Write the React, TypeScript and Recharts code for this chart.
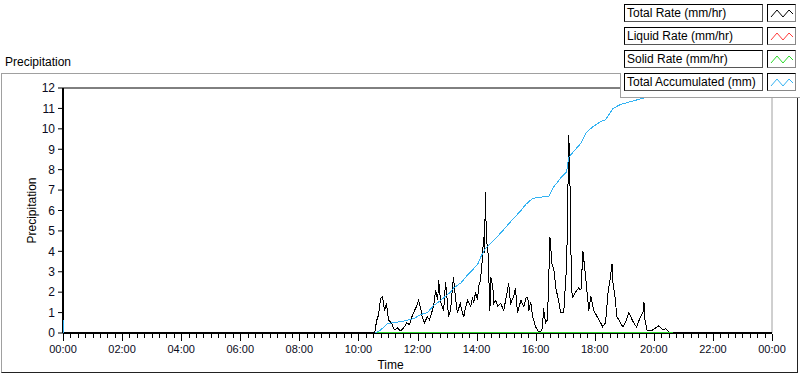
import { Legend, Line, LineChart, ReferenceLine, XAxis, YAxis } from 'recharts';

// minutes after midnight for each sample of the total rate trace
const rateMinutes = [
  0, 633, 637, 641, 645, 649, 653, 657, 661, 667, 673, 679, 685, 692, 698, 704, 708, 712, 718, 722,
  726, 730, 734, 740, 744, 749, 753, 757, 761, 763, 767, 773, 777, 781, 783, 787, 793, 797, 801, 807,
  811, 814, 818, 822, 828, 832, 834, 838, 842, 844, 848, 852, 854, 856, 858, 860, 863, 865, 867, 869,
  873, 875, 879, 883, 889, 895, 899, 903, 905, 909, 915, 919, 923, 930, 936, 940, 944, 946, 950, 954,
  960, 966, 972, 974, 976, 980, 984, 989, 993, 997, 1001, 1005, 1011, 1017, 1023, 1025, 1027, 1029, 1031, 1033,
  1035, 1041, 1047, 1052, 1056, 1060, 1064, 1068, 1072, 1078, 1086, 1092, 1096, 1102, 1107, 1111, 1115, 1117, 1121, 1125,
  1131, 1137, 1143, 1149, 1153, 1159, 1165, 1172, 1178, 1180, 1182, 1186, 1194, 1204, 1210, 1218, 1224, 1231, 1239, 1440,
];
const totalRate = [
  0, 0, 0.6, 0.9, 1.7, 1.8, 1.1, 1.45, 0.65, 0.5, 0.15, 0.25, 0.1, 0.25, 0.5, 0.4, 0.75, 1.0, 1.3, 1.6,
  1.25, 0.75, 0.5, 0.8, 0.65, 1.0, 1.4, 2.1, 1.6, 2.6, 1.5, 1.1, 2.5, 1.45, 0.8, 1.1, 2.75, 1.75, 1.0, 1.45,
  1.0, 0.8, 1.3, 1.6, 1.3, 1.75, 1.45, 2.0, 1.6, 2.25, 2.6, 3.7, 4.7, 3.9, 6.9, 4.5, 4.1, 2.6, 1.1, 2.75,
  2.25, 1.45, 1.6, 1.3, 1.45, 1.1, 1.6, 2.1, 2.45, 1.45, 1.75, 2.2, 1.0, 1.6, 1.3, 1.7, 1.75, 1.1, 1.5, 0.8,
  0.3, 0.05, 0.1, 0.3, 1.2, 0.5, 0.65, 4.7, 3.4, 3.1, 2.2, 1.75, 1.0, 1.0, 3.4, 6.0, 9.7, 8.6, 5.0, 2.1,
  1.75, 2.0, 2.2, 2.1, 4.0, 3.1, 2.1, 1.1, 1.8, 1.1, 0.75, 0.5, 0.3, 0.5, 2.0, 2.6, 3.4, 2.45, 1.8, 0.8,
  0.55, 0.3, 0.55, 1.0, 0.8, 0.5, 0.3, 0.75, 1.0, 1.5, 0.65, 0.15, 0.1, 0.25, 0.35, 0.15, 0.2, 0.05, 0, 0,
];

const accMinutes = [
  0, 2, 635, 645, 659, 667, 685, 712, 726, 740, 753, 767, 787, 793, 808, 822, 842, 850, 858, 869,
  889, 909, 930, 940, 954, 970, 987, 995, 1011, 1023, 1027, 1041, 1052, 1062, 1076, 1092, 1102, 1117, 1133, 1163,
  1194, 1214, 1239, 1440,
];
const totalAccumulated = [
  0.65, 0, 0, 0.15, 0.45, 0.5, 0.55, 0.7, 0.9, 1.0, 1.35, 1.6, 2.0, 2.2, 2.45, 2.85, 3.35, 3.8, 4.15, 4.4,
  4.9, 5.45, 6.0, 6.3, 6.6, 6.65, 6.7, 7.1, 7.6, 7.9, 8.6, 9.0, 9.3, 9.8, 10.1, 10.35, 10.45, 11.0, 11.2, 11.4,
  11.6, 11.75, 11.85, 11.85,
];

// liquid / solid traces only exist during the event, both flat at zero
const phaseMinutes = [635, 1239];
const liquidRate = [0, 0];
const solidRate = [0, 0];

const yTicks = [0, 1, 2, 3, 4, 5, 6, 7, 8, 9, 10, 11, 12];
const xLabels = ['00:00', '02:00', '04:00', '06:00', '08:00', '10:00', '12:00', '14:00', '16:00', '18:00', '20:00', '22:00', '00:00'];
const xTicks = Array.from({ length: 97 }, (_, i) => i * 15);

const seriesNames = ['Total Rate (mm/hr)', 'Liquid Rate (mm/hr)', 'Solid Rate (mm/hr)', 'Total Accumulated (mm)'];
const seriesColors = ['#000000', '#ff3b3b', '#2bd92b', '#33b2f2'];

const rateData = rateMinutes.map((t, i) => ({ t, v: totalRate[i] }));
const accData = accMinutes.map((t, i) => ({ t, v: totalAccumulated[i] }));
const liquidData = phaseMinutes.map((t, i) => ({ t, v: liquidRate[i] }));
const solidData = phaseMinutes.map((t, i) => ({ t, v: solidRate[i] }));

const FONT = '"Liberation Sans", Arial, sans-serif';

const TimeTick = ({ x, y, payload }: any) => {
  const m = payload.value;
  const major = m % 120 === 0;
  const px = Math.round(x) + 0.5;
  return (
    <g>
      <line x1={px} x2={px} y1={y + 1} y2={y + (major ? 8 : 5)} stroke="#000" shapeRendering="crispEdges" />
      {major && (
        <text x={x} y={y + 20} textAnchor="middle" fontSize={11} fontFamily={FONT} fill="#0a0a20">
          {xLabels[m / 120]}
        </text>
      )}
    </g>
  );
};

const LegendBox = () => (
  <div style={{ position: 'relative', width: 180, height: 98, background: '#fff', borderBottom: '1px solid #a0a0a0', boxSizing: 'border-box', fontFamily: FONT, fontSize: 12 }}>
    <div style={{ position: 'absolute', left: 0, top: 73, width: 1, height: 25, background: '#a0a0a0' }} />
    {seriesNames.map((name, i) => (
      <div key={name} style={{ position: 'absolute', left: 4, top: 4 + i * 23, height: 18 }}>
        <div style={{
          position: 'absolute', left: 0, top: 0, width: 139, height: 18, boxSizing: 'border-box',
          border: '1px solid #000', borderRightColor: '#555', borderBottomColor: '#555',
          paddingLeft: 2, lineHeight: '16px', color: '#000', whiteSpace: 'nowrap',
        }}>
          {name}
        </div>
        <div style={{
          position: 'absolute', left: 143, top: 0, width: 29, height: 18, boxSizing: 'border-box',
          border: '1px solid #000', borderRightColor: '#888', borderBottomColor: '#888', background: '#fff',
        }}>
          <svg width={27} height={16} style={{ display: 'block' }}>
            <polyline points="3,12 9,5 15,12 21,5 25,9" fill="none" stroke={seriesColors[i]} strokeWidth={1} />
          </svg>
        </div>
      </div>
    ))}
  </div>
);

export default function App() {
  return (
    <div style={{ position: 'relative', width: 800, height: 373, background: '#fff' }}>
      <style>{'body{margin:0}'}</style>
      <div style={{
        position: 'absolute', left: 1, top: 73, width: 797, height: 300, boxSizing: 'border-box',
        borderTop: '1px solid #a0a0a0', borderLeft: '1px solid #a0a0a0',
        borderRight: '1px solid #222', borderBottom: '1px solid #222',
      }} />
      <div style={{ position: 'absolute', left: 5, top: 55, fontFamily: FONT, fontSize: 12, lineHeight: '14px', color: '#000' }}>
        Precipitation
      </div>
      <LineChart width={800} height={373} margin={{ top: 88, right: 28, left: 0, bottom: 0 }} style={{ position: 'absolute', left: 0, top: 0 }}>
        <XAxis
          dataKey="t"
          type="number"
          domain={[0, 1440]}
          ticks={xTicks}
          interval={0}
          height={40}
          tickSize={0}
          tickMargin={0}
          tickLine={false}
          tick={<TimeTick />}
          axisLine={{ stroke: '#000', strokeWidth: 2 }}
          allowDuplicatedCategory={false}
          label={{ value: 'Time', position: 'insideBottom', offset: 4, dx: -27, fontSize: 12, fontFamily: FONT, fill: '#000' }}
        />
        <YAxis
          type="number"
          domain={[0, 12]}
          ticks={yTicks}
          interval={0}
          width={63}
          tickSize={5}
          tickMargin={3}
          tickLine={{ stroke: '#000' }}
          axisLine={{ stroke: '#000', strokeWidth: 2 }}
          tick={{ fontSize: 12, fontFamily: FONT, fill: '#0a0a20' }}
          allowDataOverflow
          label={{ value: 'Precipitation', angle: -90, position: 'insideLeft', offset: 32, textAnchor: 'middle', fontSize: 12, fontFamily: FONT, fill: '#000' }}
        />
        <ReferenceLine y={12} stroke="#000" strokeWidth={1} />
        <ReferenceLine x={1440} stroke="#a0a0a0" strokeWidth={1} />
        <Legend
          layout="vertical"
          align="center"
          verticalAlign="middle"
          content={<LegendBox />}
          wrapperStyle={{ top: 0, left: 620, width: 180, height: 98 }}
        />
        <Line data={rateData} dataKey="v" name={seriesNames[0]} stroke={seriesColors[0]} strokeWidth={1} dot={false} isAnimationActive={false} zIndex={600} shapeRendering="crispEdges" />
        <Line data={liquidData} dataKey="v" name={seriesNames[1]} stroke={seriesColors[1]} strokeWidth={1} dot={false} isAnimationActive={false} zIndex={600} />
        <Line data={solidData} dataKey="v" name={seriesNames[2]} stroke={seriesColors[2]} strokeWidth={2} dot={false} isAnimationActive={false} zIndex={600} />
        <Line data={accData} dataKey="v" name={seriesNames[3]} stroke={seriesColors[3]} strokeWidth={1} dot={false} isAnimationActive={false} zIndex={600} shapeRendering="crispEdges" />
      </LineChart>
    </div>
  );
}
